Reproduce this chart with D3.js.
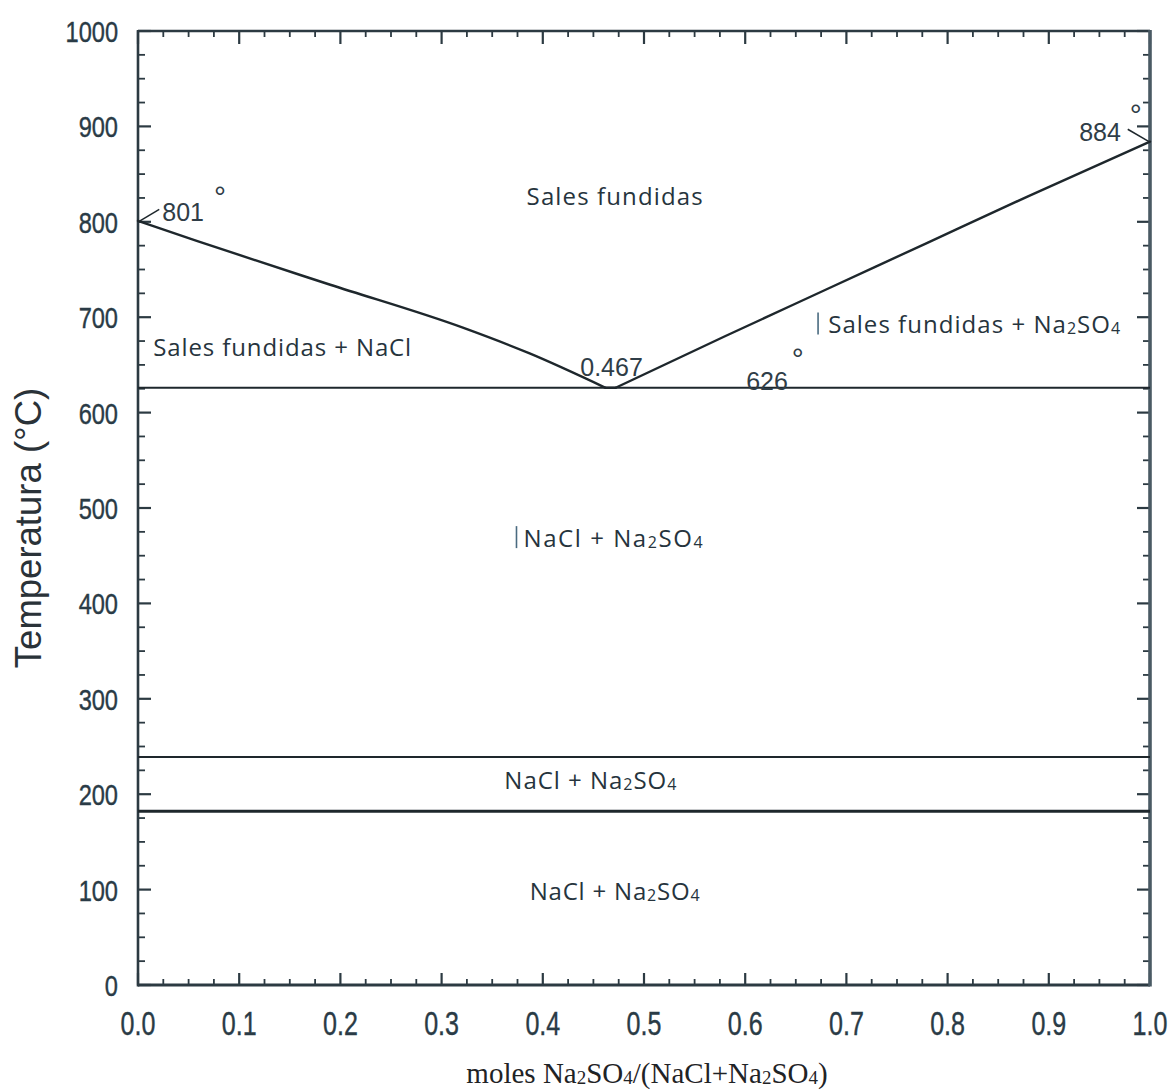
<!DOCTYPE html>
<html>
<head>
<meta charset="utf-8">
<script src="https://cdn.jsdelivr.net/npm/d3@7"></script>
<style>
  html, body { margin: 0; padding: 0; background: #ffffff; }
  svg { display: block; }
</style>
</head>
<body>
<div id="chart"></div>
<script>
// ---------- DATA ----------
const xTickValues = [0, 0.1, 0.2, 0.3, 0.4, 0.5, 0.6, 0.7, 0.8, 0.9, 1.0];
const xTickLabels = ["0.0","0.1","0.2","0.3","0.4","0.5","0.6","0.7","0.8","0.9","1.0"];
const yTickValues = [0, 100, 200, 300, 400, 500, 600, 700, 800, 900, 1000];
const yTickLabels = ["0","100","200","300","400","500","600","700","800","900","1000"];

// liquidus curve on the NaCl side (x = mole fraction Na2SO4, T in °C)
const liquidusNaClX = [0, 0.058, 0.19, 0.321, 0.387, 0.462];
const liquidusNaClT = [801, 780, 734, 689, 662, 626];
// eutectic plateau
const eutecticX = [0.462, 0.472];
const eutecticT = [626, 626];
// liquidus curve on the Na2SO4 side
const liquidusNa2SO4X = [0.472, 0.58, 0.68, 0.78, 0.88, 1.0];
const liquidusNa2SO4T = [626, 680, 729, 778, 827, 884];
// horizontal isotherms (eutectic and Na2SO4 transitions)
const isothermT = [626, 239, 182];
const isothermWidth = [2, 2, 3];

// point labels
const pointLabels = [
  { text: "801", x: 0.024, T: 801, degX: 0.075, degT: 815 },
  { text: "884", x: 0.930, T: 885, degX: 0.980, degT: 901 },
  { text: "0.467", x: 0.437, T: 638, degX: null, degT: null },
  { text: "626", x: 0.601, T: 624, degX: 0.646, degT: 646 }
];
// region labels: text parts [string, isSubscript], anchor position, measured width
const regionLabels = [
  { parts: [["Sales fundidas", false]], x: 0.384, T: 818, w: 176, bar: null },
  { parts: [["Sales fundidas + NaCl", false]], x: 0.015, T: 659, w: 258, bar: null },
  { parts: [["Sales fundidas + Na", false], ["2", true], ["SO", false], ["4", true]], x: 0.682, T: 683, w: 292, bar: 0.672 },
  { parts: [["NaCl + Na", false], ["2", true], ["SO", false], ["4", true]], x: 0.381, T: 459, w: 179, bar: 0.374 },
  { parts: [["NaCl + Na", false], ["2", true], ["SO", false], ["4", true]], x: 0.362, T: 205, w: 172, bar: null },
  { parts: [["NaCl + Na", false], ["2", true], ["SO", false], ["4", true]], x: 0.387, T: 89, w: 170, bar: null }
];

// ---------- SETUP ----------
const W = 1176, H = 1092;
const axisColor = "#2c3a42";
const textColor = "#2a3b46";
const lineColor = "#1e272c";

const svg = d3.select("#chart").append("svg")
  .attr("width", W).attr("height", H);

const x = d3.scaleLinear().domain([0, 1]).range([138, 1150]);
const y = d3.scaleLinear().domain([0, 1000]).range([985, 31]);

const g = svg.append("g");

// minor / major ticks (inward on all four sides)
const xMinor = d3.range(0, 1.0001, 0.025);
const yMinor = d3.range(0, 1000.1, 25);

function isMajorX(v) { return Math.abs(v * 10 - Math.round(v * 10)) < 1e-6; }
function isMajorY(v) { return Math.abs(v / 100 - Math.round(v / 100)) < 1e-6; }

g.selectAll("line.xb").data(xMinor).join("line")
  .attr("x1", d => x(d)).attr("x2", d => x(d))
  .attr("y1", y(0)).attr("y2", d => y(0) - (isMajorX(d) ? 12 : 6))
  .attr("stroke", axisColor).attr("stroke-width", d => isMajorX(d) ? 2.2 : 1.8);
g.selectAll("line.xt").data(xMinor).join("line")
  .attr("x1", d => x(d)).attr("x2", d => x(d))
  .attr("y1", y(1000)).attr("y2", d => y(1000) + (isMajorX(d) ? 13 : 6))
  .attr("stroke", axisColor).attr("stroke-width", d => isMajorX(d) ? 2.2 : 1.8);
g.selectAll("line.yl").data(yMinor).join("line")
  .attr("x1", x(0)).attr("x2", d => x(0) + (isMajorY(d) ? 13 : 7))
  .attr("y1", d => y(d)).attr("y2", d => y(d))
  .attr("stroke", axisColor).attr("stroke-width", d => isMajorY(d) ? 2.2 : 1.8);
g.selectAll("line.yr").data(yMinor).join("line")
  .attr("x1", x(1)).attr("x2", d => x(1) - (isMajorY(d) ? 13 : 7))
  .attr("y1", d => y(d)).attr("y2", d => y(d))
  .attr("stroke", axisColor).attr("stroke-width", d => isMajorY(d) ? 2.2 : 1.8);

// frame
g.append("line").attr("x1", x(0)).attr("x2", x(1)).attr("y1", y(0)).attr("y2", y(0))
  .attr("stroke", axisColor).attr("stroke-width", 3);
g.append("line").attr("x1", x(0)).attr("x2", x(1)).attr("y1", y(1000)).attr("y2", y(1000))
  .attr("stroke", axisColor).attr("stroke-width", 2.5);
g.append("line").attr("x1", x(0)).attr("x2", x(0)).attr("y1", y(0) + 1.5).attr("y2", y(1000) - 1)
  .attr("stroke", axisColor).attr("stroke-width", 2.6);
g.append("line").attr("x1", x(1)).attr("x2", x(1)).attr("y1", y(0) + 1.5).attr("y2", y(1000) - 1)
  .attr("stroke", "#4a5a64").attr("stroke-width", 3.6);

// tick labels (condensed look via horizontal scaling)
const tickFont = "'Liberation Sans', Arial, sans-serif";
g.selectAll("text.xl").data(xTickValues).join("text")
  .attr("transform", d => `translate(${x(d)},1035) scale(0.76,1)`)
  .attr("text-anchor", "middle")
  .attr("font-family", tickFont).attr("font-size", 33)
  .attr("fill", textColor)
  .attr("stroke", textColor).attr("stroke-width", 0.4)
  .text((d, i) => xTickLabels[i]);
g.selectAll("text.yl").data(yTickValues).join("text")
  .attr("transform", d => `translate(118,${y(d) + 11}) scale(0.8,1)`)
  .attr("text-anchor", "end")
  .attr("font-family", tickFont).attr("font-size", 29.5)
  .attr("fill", textColor)
  .attr("stroke", textColor).attr("stroke-width", 0.4)
  .text((d, i) => yTickLabels[i]);

// axis titles
g.append("text")
  .attr("transform", "translate(41,528) rotate(-90)")
  .attr("text-anchor", "middle")
  .attr("font-family", "'Liberation Sans', Arial, sans-serif")
  .attr("font-size", 36.5)
  .attr("fill", "#2a3238")
  .text("Temperatura (°C)");

const xt = g.append("text")
  .attr("x", 647).attr("y", 1083)
  .attr("text-anchor", "middle")
  .attr("font-family", "'Liberation Serif', 'Times New Roman', serif")
  .attr("font-size", 29)
  .attr("fill", "#1f2326");
[["moles Na", false], ["2", true], ["SO", false], ["4", true], ["/(NaCl+Na", false], ["2", true], ["SO", false], ["4", true], [")", false]]
  .forEach(([t, sub]) => {
    xt.append("tspan").text(t)
      .attr("font-size", sub ? 19 : 29)
      .attr("baseline-shift", sub ? "-1" : null);
  });

// isotherms
g.selectAll("line.iso").data(isothermT).join("line")
  .attr("x1", x(0)).attr("x2", x(1))
  .attr("y1", d => y(d)).attr("y2", d => y(d))
  .attr("stroke", lineColor).attr("stroke-width", (d, i) => isothermWidth[i]);

// liquidus curves (each branch smooth, sharp V at the eutectic)
const smooth = d3.line().x(d => x(d[0])).y(d => y(d[1])).curve(d3.curveMonotoneX);
const straight = d3.line().x(d => x(d[0])).y(d => y(d[1]));
const leftPts = liquidusNaClX.map((v, i) => [v, liquidusNaClT[i]]);
const flatPts = eutecticX.map((v, i) => [v, eutecticT[i]]);
const rightPts = liquidusNa2SO4X.map((v, i) => [v, liquidusNa2SO4T[i]]);
[[smooth, leftPts], [straight, flatPts], [smooth, rightPts]].forEach(([gen, pts]) => {
  g.append("path").attr("d", gen(pts))
    .attr("fill", "none").attr("stroke", lineColor).attr("stroke-width", 2.4)
    .attr("stroke-linecap", "round");
});

// leader lines for end points
g.append("line")
  .attr("x1", x(liquidusNaClX[0]) + 2).attr("y1", y(liquidusNaClT[0]))
  .attr("x2", x(0.021)).attr("y2", y(813))
  .attr("stroke", lineColor).attr("stroke-width", 1.5);
g.append("line")
  .attr("x1", x(1) - 1).attr("y1", y(liquidusNa2SO4T[liquidusNa2SO4T.length - 1]))
  .attr("x2", x(0.978)).attr("y2", y(897))
  .attr("stroke", lineColor).attr("stroke-width", 1.5);

// point labels
const numFont = "'Liberation Sans', Arial, sans-serif";
pointLabels.forEach(p => {
  g.append("text").attr("x", x(p.x)).attr("y", y(p.T))
    .attr("font-family", numFont).attr("font-size", 25)
    .attr("fill", "#2f3d47")
    .text(p.text);
  if (p.degX !== null) {
    g.append("text").attr("x", x(p.degX)).attr("y", y(p.degT))
      .attr("font-family", numFont).attr("font-size", 30)
      .attr("fill", "#2f3d47")
      .text("°");
  }
});

// region labels
const regFont = "'Open Sans', Lato, sans-serif";
regionLabels.forEach(r => {
  const t = g.append("text").attr("x", x(r.x)).attr("y", y(r.T))
    .attr("font-family", regFont).attr("font-size", 24)
    .attr("fill", "#26343d")
    .attr("textLength", r.w).attr("lengthAdjust", "spacing");
  r.parts.forEach(([s, sub]) => {
    t.append("tspan").text(s)
      .attr("font-size", sub ? 16 : 24)
      .attr("baseline-shift", sub ? "-1" : null);
  });
  if (r.bar !== null) {
    g.append("line")
      .attr("x1", x(r.bar)).attr("x2", x(r.bar))
      .attr("y1", y(r.T) - 21).attr("y2", y(r.T) + 1)
      .attr("stroke", "#4a6b80").attr("stroke-width", 1.6);
  }
});
</script>
</body>
</html>
